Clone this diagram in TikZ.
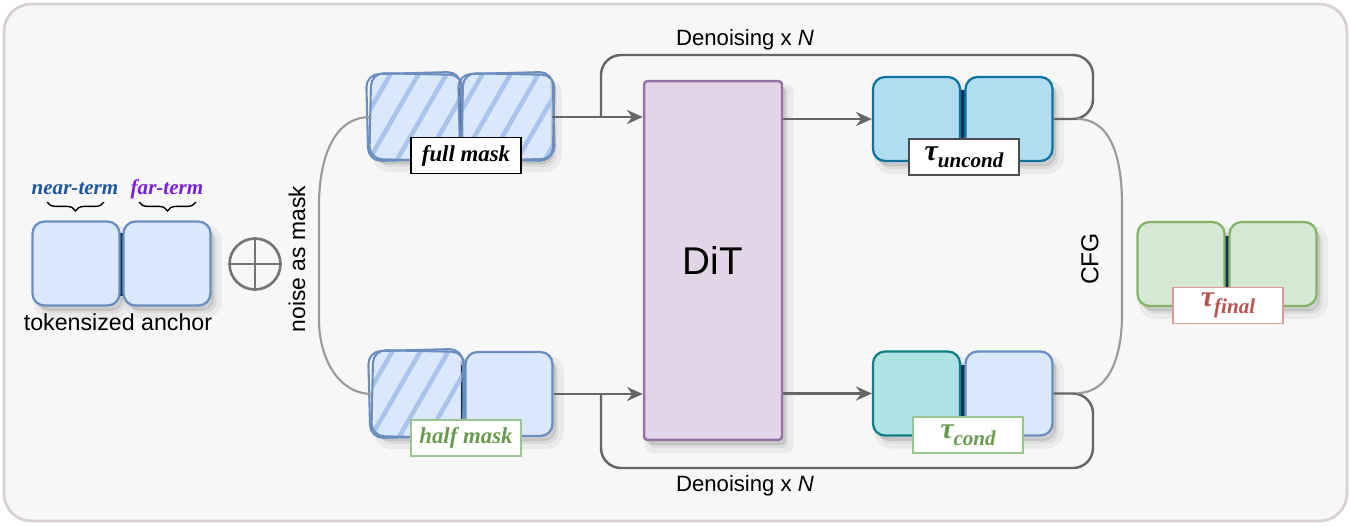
\documentclass[tikz,border=0pt]{standalone}
\usepackage{fontspec}
\setmainfont{Liberation Sans}
\newfontfamily\lserif{Liberation Serif}
\usetikzlibrary{arrows.meta,decorations.pathreplacing,calc}

\definecolor{bgc}{HTML}{F7F7F7}
\definecolor{framec}{HTML}{D8D0D4}
\definecolor{tokfill}{HTML}{DAE8FC}
\definecolor{tokline}{HTML}{6C8EBF}
\definecolor{hatchc}{HTML}{A9C4EB}
\definecolor{barc}{HTML}{1A3E6E}
\definecolor{uncfill}{HTML}{B1DDF0}
\definecolor{uncline}{HTML}{10739E}
\definecolor{condfill}{HTML}{B0E3E6}
\definecolor{condline}{HTML}{0E8088}
\definecolor{finfill}{HTML}{D5E8D4}
\definecolor{finline}{HTML}{82B366}
\definecolor{ditfill}{HTML}{E1D5E7}
\definecolor{ditline}{HTML}{9673A6}
\definecolor{arrc}{HTML}{666666}
\definecolor{curvec}{HTML}{9A9A9A}
\definecolor{tgreen}{HTML}{6A9A50}
\definecolor{lgreen}{HTML}{9CC48E}
\definecolor{tred}{HTML}{B85450}
\definecolor{lred}{HTML}{D99A97}
\definecolor{nearc}{HTML}{1F56A0}
\definecolor{farc}{HTML}{7A1FD6}

\newcommand\taulabel[1]{{\lserif\bfseries\itshape\fontsize{17}{17}\selectfont τ\raisebox{-0.5ex}{\fontsize{12}{12}\selectfont #1}}}
\newcommand\bilabel[1]{{\lserif\bfseries\itshape\fontsize{13}{13}\selectfont #1}}
% diagonal hatching clipped to a token node, with a hand-drawn double outline
\newcommand\hatchtok[1]{%
  \begin{scope}
    \clip[rounded corners=0.24cm] (#1.south west) rectangle (#1.north east);
    \foreach \k in {0,...,5}{\draw[hatchc,line width=2.6pt]
      ([xshift=\k*0.56cm-1.15cm]#1.south west) -- ++(60:3.6cm);}
  \end{scope}
  \draw[sketch,rotate around={1.5:(#1.center)}]
    ([shift={(-2,1)}]#1.south west) rectangle ([shift={(1,-2)}]#1.north east);
  \draw[sketch,rotate around={-1.2:(#1.center)}]
    ([shift={(-1,-1)}]#1.south west) rectangle ([shift={(3,1)}]#1.north east);
}

\begin{document}
\begin{tikzpicture}[x=0.02cm,y=-0.02cm,
  frame/.style={draw=framec,fill=bgc,line width=1.6pt,rounded corners=0.55cm},
  softshadow/.style={
    preaction={fill=black,fill opacity=0.06,draw=black,draw opacity=0.05,line width=6pt,
      transform canvas={xshift=3.5pt,yshift=-4.5pt}},
    preaction={fill=black,fill opacity=0.10,transform canvas={xshift=2pt,yshift=-3pt}}},
  tok/.style={draw,rounded corners=0.24cm,line width=1.3pt,minimum width=1.74cm,
    minimum height=1.68cm,inner sep=0pt,softshadow},
  blue/.style={fill=tokfill,draw=tokline},
  hatched/.style={tok,draw=none,fill=tokfill},
  sketch/.style={draw=tokline,line width=1.2pt,rounded corners=0.26cm},
  bar/.style={draw=barc,line width=2.4pt},
  lbl/.style={fill=white,line width=0.7pt,minimum width=2.2cm,minimum height=0.72cm,inner sep=0pt},
  dit/.style={draw=ditline,fill=ditfill,line width=1.4pt,rounded corners=2pt,
    minimum width=2.76cm,minimum height=7.18cm,font=\fontsize{22}{22}\selectfont,softshadow},
  arr/.style={draw=arrc,line width=1.4pt,-{Stealth[length=9pt,width=8pt]}},
  loopline/.style={draw=arrc,line width=1.4pt,rounded corners=0.4cm},
  curve/.style={draw=curvec,line width=1.2pt},
  txt/.style={font=\fontsize{12.6}{14}\selectfont,inner sep=0pt},
  brc/.style={decorate,decoration={brace,mirror,amplitude=5pt},line width=0.8pt}
]
\useasboundingbox (0,0) rectangle (1351,525);
\draw[frame] (4,4) rectangle (1347,521);

% ---- tokenized anchor ----
\draw[bar] (121,233) -- (121,296);
\node[tok,blue] (a1) at (76,263.5) {};
\node[tok,blue] (a2) at (167,263.5) {};
\node[text=nearc,inner sep=0pt] (nt) at (75,189) {\lserif\bfseries\itshape\fontsize{12}{12}\selectfont near-term};
\node[text=farc,inner sep=0pt] (ft) at (167,189) {\lserif\bfseries\itshape\fontsize{12}{12}\selectfont far-term};
\draw[brc] (47,202) -- (104,202);
\draw[brc] (139,202) -- (196,202);
\node[txt,font=\fontsize{13.2}{15}\selectfont] (anc) at (118,322) {tokensized anchor};

% ---- combine with noise ----
\node[circle,draw=arrc!90,line width=1.5pt,minimum size=1.02cm,inner sep=0pt] (plus) at (255,264) {};
\draw[arrc!90,line width=1.5pt] (plus.north) -- (plus.south) (plus.west) -- (plus.east);
\node[txt,font=\fontsize{13}{15}\selectfont,rotate=90] (nam) at (297,259) {noise as mask};

% ---- full mask ----
\draw[bar] (461,88) -- (461,142);
\node[hatched] (f1) at (415,117) {};
\node[hatched] (f2) at (507,117) {};
\hatchtok{f1}
\hatchtok{f2}
\node[lbl,draw=black] (lf) at (466,155.5) {\bilabel{full mask}};

% ---- half mask ----
\draw[bar] (463,365) -- (463,425);
\node[hatched] (h1) at (417,394) {};
\node[tok,blue] (h2) at (509,394) {};
\hatchtok{h1}
\node[lbl,draw=lgreen,text=tgreen] (lh) at (466,438) {\bilabel{half mask}};

% ---- noise branches ----
\draw[curve] (f1.west) to[out=180,in=90] (319,205) -- (319,320) to[out=-90,in=180] (h1.west);

% ---- DiT ----
\node[dit] (dit) at (713,260.5) {DiT};

% ---- outputs ----
\draw[bar] (962.5,90) -- (962.5,150);
\node[tok,fill=uncfill,draw=uncline] (u1) at (916.5,119) {};
\node[tok,fill=uncfill,draw=uncline] (u2) at (1009,119) {};
\node[lbl,draw=black!70] (lu) at (964,157) {\taulabel{uncond}};

\draw[bar] (962.5,365) -- (962.5,425);
\node[tok,fill=condfill,draw=condline] (c1) at (916.5,393.5) {};
\node[tok,blue] (c2) at (1009,393.5) {};
\node[lbl,draw=lgreen,text=tgreen] (lc) at (968,435) {\taulabel{cond}};

% ---- arrows through DiT ----
\draw[arr] (f2.east) -- (dit.west |- f2.east);
\draw[arr] (h2.east) -- (dit.west |- h2.east);
\draw[arr] (dit.east |- u1.west) -- (u1.west);
\draw[arr] (dit.east |- c1.west) -- (c1.west);

% ---- denoising loops ----
\coordinate (jt) at (601,117);
\coordinate (jb) at (601,394);
\draw[loopline] (u2.east) -| (1093,55) -| (jt);
\draw[loopline] (c2.east) -| (1093,468) -| (jb);
\node[txt] (dtop) at (745,40) {Denoising x \textit{N}};
\node[txt] (dbot) at (745,486) {Denoising x \textit{N}};

% ---- classifier-free guidance ----
\coordinate (gt) at (1077,119);
\coordinate (gb) at (1077,393);
\draw[curve] (gt) to[out=0,in=90] (1122,205) -- (1122,315) to[out=-90,in=0] (gb);
\node[txt,font=\fontsize{14}{15}\selectfont,rotate=90] (cfg) at (1090,259) {CFG};

% ---- final trajectory ----
\draw[bar] (1227.5,236) -- (1227.5,295);
\node[tok,fill=finfill,draw=finline] (g1) at (1181,264) {};
\node[tok,fill=finfill,draw=finline] (g2) at (1273,264) {};
\node[lbl,draw=lred,text=tred] (lg) at (1228,305.5) {\taulabel{final}};
\end{tikzpicture}
\end{document}
